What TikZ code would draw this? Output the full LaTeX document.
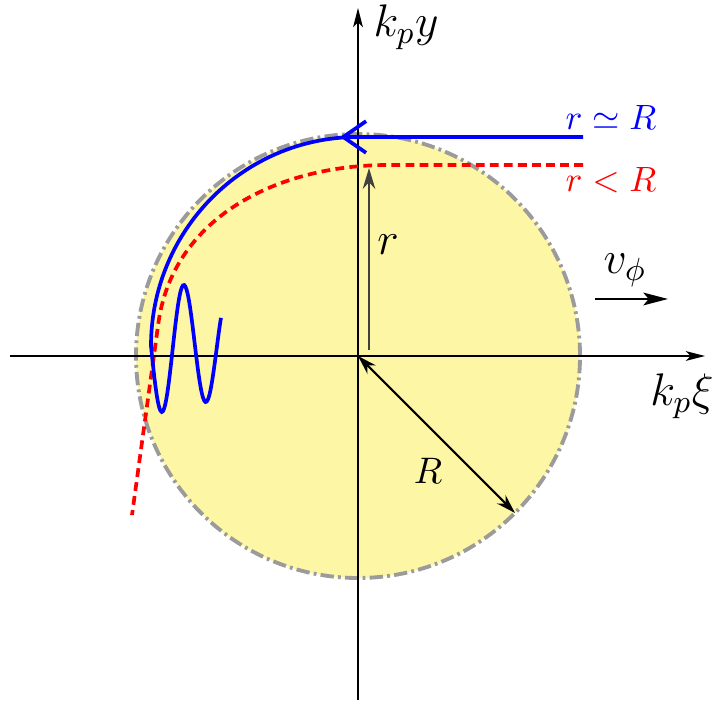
\RequirePackage{fix-cm}
\documentclass[tikz,border=0pt]{standalone}
\usepackage{amsmath,amssymb}
\usepackage{tikz}
\usetikzlibrary{arrows.meta}

\definecolor{discfill}{RGB}{253,246,165}
\definecolor{rimgray}{RGB}{155,155,155}

\begin{document}
\begin{tikzpicture}[
    axis/.style={line width=0.5pt, -{Stealth[length=5.5pt, width=2.8pt, inset=1.4pt]}},
    rim/.style={draw=rimgray, line width=1.1pt, dash pattern=on 3.8pt off 1.2pt on 0.8pt off 1.2pt, fill=discfill},
    wave/.style={blue, line width=1.05pt},
    trap/.style={red, line width=1.05pt, dash pattern=on 2.5pt off 1.5pt},
    big/.style={font=\fontsize{13}{15}\selectfont},
    small/.style={font=\fontsize{10}{12}\selectfont},
    >=Stealth
  ]

  \useasboundingbox (-3.58,-3.52) rectangle (3.62,3.56);

  % Disc
  \coordinate (O) at (0,0);
  \draw[rim] (O) circle (2.22);

  % Axes
  \coordinate (xl) at (-3.48,0);
  \coordinate (xr) at (3.47,0);
  \coordinate (yb) at (0,-3.44);
  \coordinate (yt) at (0,3.48);
  \draw[axis] (xl) -- (xr);
  \draw[axis] (yb) -- (yt);

  % Radii
  \coordinate (edge) at (-45:2.22);
  \draw[line width=0.6pt, {Stealth[length=5.5pt,width=3.4pt]}-{Stealth[length=5.5pt,width=3.4pt]}] (O) -- (edge);
  \coordinate (rfoot) at (0.11,0.06);
  \coordinate (rtop) at (0.11,1.88);
  \draw[black!75, line width=0.4pt, -{Stealth[length=6pt,width=3.6pt]}] (rfoot) -- (rtop);

  % Trajectories
  \draw[trap] (2.25,1.91) -- (0.3,1.91) to[out=180,in=83] (-2.0,0.3) -- (-2.26,-1.59);
  \draw[wave] (2.25,2.19) -- (0,2.19) to[out=180,in=90] (-2.07,0.1)
    -- plot[domain=-2.07:-1.37, samples=60, smooth] (\x,{0.1-(0.66-0.227*(\x+1.96))*sin(360*(\x+2.07)/0.44)});
  \draw[wave, -{Straight Barb[length=6.5pt,width=9pt]}] (0.5,2.19) -- (-0.18,2.19);

  % Phase velocity
  \coordinate (vtail) at (2.37,0.57);
  \coordinate (vhead) at (3.10,0.57);
  \draw[line width=0.75pt, -{Stealth[length=7pt,width=3.6pt,inset=1.5pt]}] (vtail) -- (vhead);

  % Labels
  \node[big] (ky) at (0.48,3.29) {$k_p y$};
  \node[big] (kxi) at (3.24,-0.40) {$k_p\xi$};
  \node[big] (vphi) at (2.67,0.86) {$v_\phi$};
  \node[big] (rlab) at (0.30,1.11) {$r$};
  \node[font=\fontsize{10.5}{12}\selectfont] (Rlab) at (0.70,-1.15) {$R$};
  \node[small, blue] (rsim) at (2.53,2.38) {$r \simeq R$};
  \node[small, red] (rless) at (2.53,1.76) {$r < R$};

\end{tikzpicture}
\end{document}
